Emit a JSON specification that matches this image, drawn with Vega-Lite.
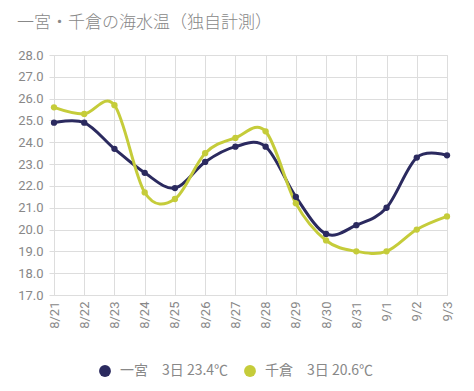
{
  "$schema": "https://vega.github.io/schema/vega-lite/v6.json",
  "width": 393,
  "height": 240,
  "autosize": {"type": "none"},
  "padding": {"left": 54, "top": 55, "right": 27, "bottom": 96},
  "background": "white",
  "title": {
    "text": "一宮・千倉の海水温（独自計測）",
    "anchor": "start",
    "frame": "group",
    "dx": -37,
    "offset": 17,
    "fontSize": 17,
    "font": "Noto Sans CJK JP",
    "fontWeight": 300,
    "color": "#888888"
  },
  "data": {
    "values": [
      {"date": "8/21", "site": "一宮", "temp": 24.9},
      {"date": "8/22", "site": "一宮", "temp": 24.9},
      {"date": "8/23", "site": "一宮", "temp": 23.7},
      {"date": "8/24", "site": "一宮", "temp": 22.6},
      {"date": "8/25", "site": "一宮", "temp": 21.9},
      {"date": "8/26", "site": "一宮", "temp": 23.1},
      {"date": "8/27", "site": "一宮", "temp": 23.8},
      {"date": "8/28", "site": "一宮", "temp": 23.8},
      {"date": "8/29", "site": "一宮", "temp": 21.5},
      {"date": "8/30", "site": "一宮", "temp": 19.8},
      {"date": "8/31", "site": "一宮", "temp": 20.2},
      {"date": "9/1", "site": "一宮", "temp": 21.0},
      {"date": "9/2", "site": "一宮", "temp": 23.3},
      {"date": "9/3", "site": "一宮", "temp": 23.4},
      {"date": "8/21", "site": "千倉", "temp": 25.6},
      {"date": "8/22", "site": "千倉", "temp": 25.3},
      {"date": "8/23", "site": "千倉", "temp": 25.7},
      {"date": "8/24", "site": "千倉", "temp": 21.7},
      {"date": "8/25", "site": "千倉", "temp": 21.4},
      {"date": "8/26", "site": "千倉", "temp": 23.5},
      {"date": "8/27", "site": "千倉", "temp": 24.2},
      {"date": "8/28", "site": "千倉", "temp": 24.5},
      {"date": "8/29", "site": "千倉", "temp": 21.2},
      {"date": "8/30", "site": "千倉", "temp": 19.5},
      {"date": "8/31", "site": "千倉", "temp": 19.0},
      {"date": "9/1", "site": "千倉", "temp": 19.0},
      {"date": "9/2", "site": "千倉", "temp": 20.0},
      {"date": "9/3", "site": "千倉", "temp": 20.6}
    ]
  },
  "encoding": {
    "x": {
      "field": "date",
      "type": "ordinal",
      "sort": null,
      "scale": {"type": "point", "padding": 0},
      "axis": {
        "title": null,
        "labelAngle": -90,
        "labelFont": "Roboto",
        "labelFontSize": 13,
        "labelColor": "#888888",
        "labelPadding": 6,
        "grid": true,
        "gridColor": "#dddddd",
        "domain": false,
        "ticks": false
      }
    },
    "y": {
      "field": "temp",
      "type": "quantitative",
      "scale": {"domain": [17, 28], "nice": false, "zero": false},
      "axis": {
        "title": null,
        "values": [17, 18, 19, 20, 21, 22, 23, 24, 25, 26, 27, 28],
        "format": ".1f",
        "labelFont": "Roboto",
        "labelFontSize": 13,
        "labelColor": "#888888",
        "gridColor": "#dddddd",
        "tickColor": "#dddddd",
        "tickSize": 5,
        "domain": false,
        "labelPadding": 6
      }
    },
    "color": {
      "field": "site",
      "type": "nominal",
      "sort": ["一宮", "千倉"],
      "scale": {"domain": ["一宮", "千倉"], "range": ["#2b2a5f", "#c5cc3a"]},
      "legend": {
        "title": null,
        "orient": "none",
        "legendX": 44,
        "legendY": 309,
        "direction": "horizontal",
        "symbolType": "circle",
        "symbolSize": 140,
        "symbolStrokeWidth": 0,
        "labelFont": "Noto Sans CJK JP",
        "labelFontSize": 14,
        "labelColor": "#888888",
        "labelOffset": 8,
        "columnPadding": 14,
        "labelExpr": "datum.label == '一宮' ? '一宮　3日 23.4℃' : '千倉　3日 20.6℃'"
      }
    }
  },
  "layer": [
    {"mark": {"type": "line", "interpolate": "cardinal", "strokeWidth": 3}},
    {"mark": {"type": "point", "filled": true, "size": 40, "opacity": 1}}
  ]
}
